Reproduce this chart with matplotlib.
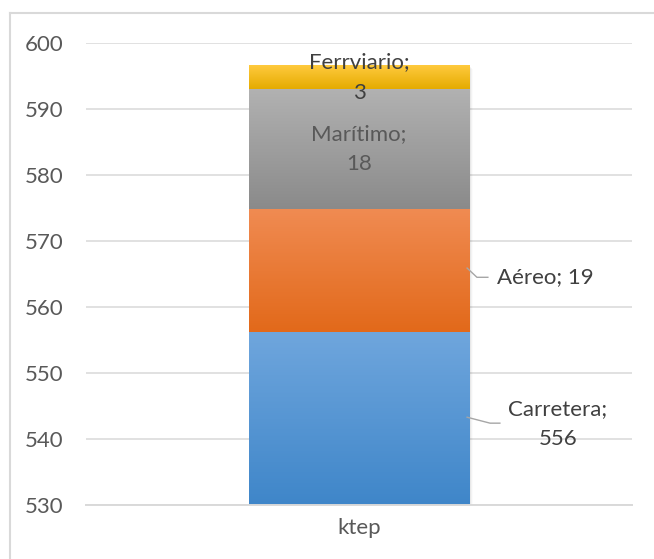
import matplotlib
matplotlib.use("Agg")
import matplotlib.pyplot as plt
import numpy as np
from matplotlib.colors import LinearSegmentedColormap
from matplotlib.lines import Line2D

plt.rcParams['font.family'] = ['Lato', 'DejaVu Sans']

# ---- data ----
category = ["ktep"]
series = ["Carretera", "Aéreo", "Marítimo", "Ferrviario"]
values = [556.2, 18.6, 18.2, 3.5]
labels = ["Carretera;\n556", "Aéreo; 19", "Marítimo;\n18", "Ferrviario;\n3"]
y_ticks = [530, 540, 550, 560, 570, 580, 590, 600]

grad_top = ["#6fa6dd", "#f08b52", "#b2b2b2", "#ffca3e"]
grad_bot = ["#3f86c9", "#e2691a", "#8a8a8a", "#e5ab00"]

W, H = 654, 559
FS = 16
fig = plt.figure(figsize=(W / 100, H / 100), dpi=100)
ax = fig.add_axes([86 / W, 1 - 505 / H, (632 - 86) / W, (505 - 43) / H])

ymin, ymax = 530, 600
ax.set_xlim(-0.5, 0.5)
ax.set_ylim(ymin, ymax)

bottoms = np.concatenate([[0], np.cumsum(values)[:-1]])
bw = 0.403
bars = []
for i, (v, b) in enumerate(zip(values, bottoms)):
    bar = ax.bar(0, v, bottom=b, width=bw, color='none', edgecolor='none', zorder=3)[0]
    bars.append(bar)

# subtle shadow
for k, a in enumerate([0.06, 0.045, 0.03, 0.015]):
    off = 0.002 * (k + 1)
    tot = sum(values)
    ax.add_patch(plt.Rectangle((-bw / 2 + off, ymin - 0.1 * (k + 1)), bw, tot - ymin,
                               color='black', alpha=a, lw=0, zorder=2))

# gradient fills
for i, bar in enumerate(bars):
    x0 = bar.get_x()
    x1 = x0 + bar.get_width()
    y0 = max(bar.get_y(), ymin)
    y1 = bar.get_y() + bar.get_height()
    cmap = LinearSegmentedColormap.from_list(f"g{i}", [grad_bot[i], grad_top[i]])
    grad = np.linspace(0, 1, 256).reshape(-1, 1)
    ax.imshow(grad, extent=[x0, x1, y0, y1], origin='lower', aspect='auto',
              cmap=cmap, zorder=4, interpolation='bilinear')
ax.set_xlim(-0.5, 0.5)
ax.set_ylim(ymin, ymax)

# grid and spines
ax.set_yticks(y_ticks)
ax.yaxis.grid(True, color='#d9d9d9', lw=1.1, zorder=0)
ax.set_axisbelow(True)
for s in ['top', 'right', 'left']:
    ax.spines[s].set_visible(False)
ax.spines['bottom'].set_color('#d9d9d9')
ax.spines['bottom'].set_linewidth(1.4)
ax.spines['bottom'].set_zorder(5)
ax.tick_params(axis='y', length=0, pad=16.5, labelsize=FS, labelcolor='#595959')
ax.tick_params(axis='x', length=0, pad=9, labelsize=FS, labelcolor='#595959')
ax.set_xticks([0])
ax.set_xticklabels(category)

tc = '#404040'
LS = 1.65
# inside labels
mid_f = bottoms[3] + values[3] / 2
mid_m = bottoms[2] + values[2] / 2
ax.text(0, mid_f, labels[3], ha='center', va='center', fontsize=FS, color=tc,
        linespacing=LS, zorder=6)
ax.text(0, mid_m, labels[2], ha='center', va='center', fontsize=FS, color='#595959',
        linespacing=LS, zorder=6)

# outside labels with leader lines
lc = '#a6a6a6'
mid_a = bottoms[1] + values[1] / 2
ax.add_line(Line2D([0.198, 0.216, 0.236], [mid_a + 0.4, mid_a - 1.0, mid_a - 1.0],
                   color=lc, lw=1, zorder=6))
ax.text(0.253, mid_a - 1.0, labels[1], ha='left', va='center', fontsize=FS, color=tc, zorder=6)

mid_c = (ymin + values[0]) / 2
ax.add_line(Line2D([0.198, 0.240, 0.258], [mid_c + 0.2, mid_c - 0.7, mid_c - 0.7],
                   color=lc, lw=1, zorder=6))
ax.text(0.364, mid_c - 0.8, labels[0], ha='center', va='center', fontsize=FS, color=tc,
        linespacing=LS, zorder=6)

# outer chart border
fig.add_artist(Line2D([10 / W, 10 / W], [0, 1 - 13 / H], transform=fig.transFigure,
                      color='#d9d9d9', lw=1.5))
fig.add_artist(Line2D([10 / W, 1], [1 - 13 / H, 1 - 13 / H], transform=fig.transFigure,
                      color='#d9d9d9', lw=1.5))

fig.savefig("out.png", dpi=100, facecolor='white')
